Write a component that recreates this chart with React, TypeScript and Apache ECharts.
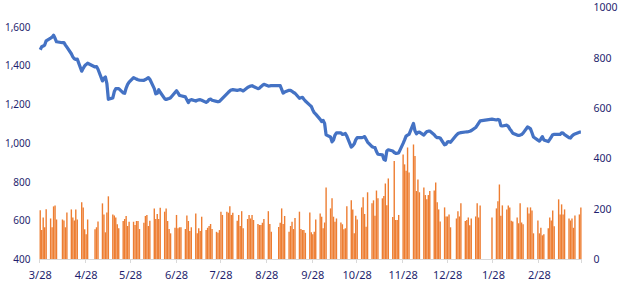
import React, { useEffect, useRef } from "react";
import * as echarts from "echarts";

// Calendar span of the chart and non-trading weekdays (exchange holidays)
const START_DATE = "2022-03-28";
const END_DATE = "2023-03-28";
const closedDays = [
  "2022-04-11", "2022-05-02", "2022-05-03", "2022-09-01", "2022-09-02",
  "2023-01-02", "2023-01-20", "2023-01-23", "2023-01-24", "2023-01-25", "2023-01-26",
];

// Index close per trading day (left axis)
const indexClose = [
  1481, 1496, 1500, 1505, 1527,
  1541, 1546, 1556, 1540, 1522,
  1517, 1518, 1505, 1494,
  1460, 1444, 1434, 1431, 1432,
  1370, 1385, 1397, 1405, 1411,
  1392, 1394, 1380,
  1320, 1334, 1340, 1306, 1225,
  1232, 1265, 1280, 1280, 1280,
  1258, 1256, 1283, 1302, 1314,
  1337, 1333, 1329, 1326, 1324,
  1323, 1327, 1332, 1337, 1328,
  1280, 1253, 1256, 1274, 1261,
  1228, 1224, 1227, 1229, 1233,
  1260, 1269, 1258, 1245, 1243,
  1237, 1223, 1208, 1220, 1223,
  1216, 1220, 1222, 1223, 1220,
  1209, 1214, 1224, 1226, 1220,
  1214, 1212, 1214, 1222, 1230,
  1253, 1261, 1268, 1273, 1275,
  1271, 1273, 1275, 1272, 1268,
  1286, 1290, 1293, 1295, 1291,
  1280, 1282, 1290, 1297, 1302,
  1293, 1294, 1296,
  1296, 1295, 1276, 1257, 1262,
  1271, 1271, 1266, 1260, 1256,
  1230, 1233, 1235, 1225, 1216,
  1195, 1188, 1170, 1156, 1148,
  1121, 1110, 1116, 1100, 1041,
  1030, 1005, 1015, 1040, 1052,
  1052, 1044, 1045, 1048, 1035,
  978, 985, 995, 1015, 1027,
  1027, 1029, 1032, 1018, 1004,
  980, 977, 975, 955, 941,
  938, 915, 910, 958, 964,
  958, 950, 946, 946, 948,
  997, 1015, 1035, 1040, 1044,
  1100, 1062, 1047, 1054, 1055,
  1040, 1050, 1058, 1060, 1061,
  1042, 1032, 1027, 1027, 1025,
  990, 993, 1005, 1006, 1003,
  1040, 1048, 1051, 1053,
  1056, 1057, 1058, 1060, 1063,
  1079, 1090, 1102, 1113,
  1122,
  1118, 1121, 1118, 1089, 1087,
  1091, 1085, 1072, 1062, 1050,
  1040, 1038, 1040, 1043, 1050,
  1082, 1078, 1072, 1052, 1030,
  1014, 1009, 1020, 1032, 1015,
  1007, 1018, 1030, 1042, 1044,
  1044, 1044, 1052, 1050, 1042,
  1027, 1025, 1035, 1042, 1046,
  1055, 1055,
];

// Trading volume per trading day (right axis)
const tradingVolume = [
  194, 115, 165, 126, 198,
  161, 126, 209, 213, 157,
  157, 153, 126, 185,
  197, 165, 153, 197, 157,
  225, 205, 118, 98, 157,
  118, 126, 149,
  221, 177, 106, 185, 249,
  177, 173, 165, 138, 122,
  151, 159, 171, 131, 148,
  148, 135, 151, 151, 119,
  144, 171, 175, 131, 152,
  201, 159, 179, 159, 204,
  188, 201, 151, 119, 102,
  124, 175, 122, 126, 126,
  119, 173, 151, 111, 126,
  181, 102, 122, 111, 168,
  115, 124, 131, 139, 119,
  108, 104, 115, 188, 175,
  188, 184, 210, 175, 184,
  152, 175, 131, 190, 122,
  159, 175, 161, 175, 155,
  139, 135, 135, 144, 159,
  190, 139, 108,
  127, 144, 201, 139, 171,
  108, 131, 148, 119, 163,
  188, 119, 115, 115, 104,
  185, 106, 98, 108, 157,
  181, 168, 122, 145, 284,
  201, 241, 168, 148, 161,
  145, 138, 118, 122, 210,
  233, 197, 102, 172, 157,
  205, 245, 179, 128, 265,
  221, 233, 172, 272, 241,
  241, 250, 300, 214, 320,
  167, 389, 155, 155, 175,
  415, 376, 351, 443, 344,
  455, 409, 270, 316, 265,
  284, 254, 237, 254, 270,
  272, 304, 225, 197, 149,
  205, 169, 169, 177, 126,
  161, 190, 169, 221,
  151, 155, 165, 134, 161,
  169, 221, 165, 213,
  165,
  201, 229, 296, 172, 213,
  197, 213, 205, 152, 149,
  165, 142, 221, 145, 138,
  205, 181, 205, 193, 102,
  153, 102, 124, 94, 98,
  122, 165, 153, 193, 130,
  237, 177, 217, 177, 197,
  161, 153, 161, 124, 173,
  177, 205,
];

const LEFT_TICKS = { min: 400, max: 1700, interval: 200, lastLabel: 1600 };
const RIGHT_TICKS = { min: 0, max: 1000, interval: 200 };

const LABEL_COLOR = "#1f1f6e";
const FONT = '"Noto Sans", Tahoma, sans-serif';

function buildCalendar() {
  const days: Date[] = [];
  const start = new Date(START_DATE + "T00:00:00Z");
  const end = new Date(END_DATE + "T00:00:00Z");
  for (let t = start.getTime(); t <= end.getTime(); t += 86400000) {
    days.push(new Date(t));
  }
  return days;
}

function iso(d: Date) {
  return d.toISOString().slice(0, 10);
}

export default function App() {
  const ref = useRef<HTMLDivElement>(null);

  useEffect(() => {
    if (!ref.current) return;
    const chart = echarts.init(ref.current, undefined, { renderer: "svg" });

    const calendar = buildCalendar();
    const labels = calendar.map((d) => `${d.getUTCMonth() + 1}/${d.getUTCDate()}`);
    const lineData: (number | null)[] = [];
    const barData: (number | null)[] = [];
    let k = 0;
    calendar.forEach((d) => {
      const wd = d.getUTCDay();
      const trading = wd !== 0 && wd !== 6 && !closedDays.includes(iso(d));
      if (trading && k < indexClose.length) {
        lineData.push(indexClose[k]);
        barData.push(tradingVolume[k]);
        k++;
      } else {
        lineData.push(null);
        barData.push(null);
      }
    });

    const lastIndex = calendar.length - 1;
    const isMonthMark = (index: number) =>
      index < lastIndex && calendar[index] && calendar[index].getUTCDate() === 28;

    chart.setOption({
      animation: false,
      grid: { left: 39.5, right: 40.4, top: 7.3, bottom: 43, containLabel: false },
      xAxis: {
        type: "category",
        data: labels,
        boundaryGap: true,
        axisLine: { show: true, lineStyle: { color: "#d9d9d9", width: 1 } },
        axisTick: {
          show: true,
          interval: (i: number) => isMonthMark(i),
          length: 4,
          lineStyle: { color: "#d9d9d9" },
        },
        axisLabel: {
          interval: (i: number) => isMonthMark(i),
          color: LABEL_COLOR,
          fontSize: 11,
          fontFamily: FONT,
          margin: 10,
        },
        splitLine: { show: false },
      },
      yAxis: [
        {
          type: "value",
          min: LEFT_TICKS.min,
          max: LEFT_TICKS.max,
          interval: LEFT_TICKS.interval,
          position: "left",
          splitLine: { show: false },
          axisLine: { show: false },
          axisTick: { show: false },
          axisLabel: {
            color: LABEL_COLOR,
            fontSize: 10,
            fontFamily: FONT,
            margin: 9,
            formatter: (v: number) => (v > LEFT_TICKS.lastLabel ? "" : v.toLocaleString("en-US")),
          },
        },
        {
          type: "value",
          min: RIGHT_TICKS.min,
          max: RIGHT_TICKS.max,
          interval: RIGHT_TICKS.interval,
          position: "right",
          splitLine: { show: false },
          axisLine: { show: false },
          axisTick: { show: false },
          axisLabel: {
            color: LABEL_COLOR,
            fontSize: 10.5,
            fontFamily: FONT,
            margin: 12,
            formatter: (v: number) => String(v),
          },
        },
      ],
      series: [
        {
          type: "bar",
          yAxisIndex: 1,
          data: barData,
          barWidth: 1.4,
          itemStyle: { color: "#ED7D31" },
        },
        {
          type: "line",
          yAxisIndex: 0,
          data: lineData,
          connectNulls: true,
          symbol: "none",
          showSymbol: false,
          lineStyle: { color: "#4472C4", width: 3.25, join: "round" },
          itemStyle: { color: "#4472C4" },
        },
      ],
    });

    return () => chart.dispose();
  }, []);

  return (
    <div
      ref={ref}
      style={{ position: "fixed", left: 0, top: 0, width: 622, height: 302, background: "#fff" }}
    />
  );
}
